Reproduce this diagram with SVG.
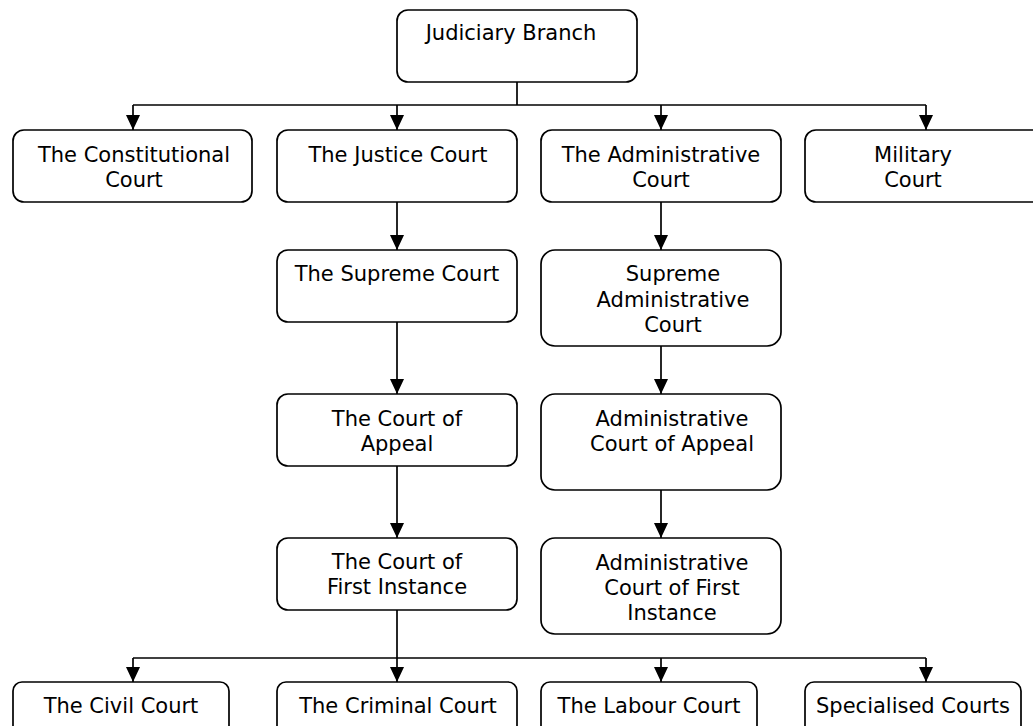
<svg xmlns="http://www.w3.org/2000/svg" width="1033" height="726" viewBox="0 0 1033 726">
<style>
.box{fill:#fff;stroke:#000;stroke-width:1.7}
.ln{fill:none;stroke:#000;stroke-width:1.7}
text{font-family:"DejaVu Sans","Noto Sans",sans-serif;font-size:21px;fill:#000;text-anchor:middle}
</style>
<defs>
<marker id="ah" viewBox="0 0 15 14" refX="15" refY="7" markerWidth="15" markerHeight="14" markerUnits="userSpaceOnUse" orient="auto">
<path d="M0,0 L15,7 L0,14 Z" fill="#000"/>
</marker>
</defs>
<rect width="1033" height="726" fill="#fff"/>
<g id="connectors">
<path class="ln" d="M517,82 V105"/>
<path class="ln" d="M133,105 H926"/>
<path class="ln" d="M133,105 V130" marker-end="url(#ah)"/>
<path class="ln" d="M397,105 V130" marker-end="url(#ah)"/>
<path class="ln" d="M661,105 V130" marker-end="url(#ah)"/>
<path class="ln" d="M926,105 V130" marker-end="url(#ah)"/>
<path class="ln" d="M397,202 V250" marker-end="url(#ah)"/>
<path class="ln" d="M397,322 V394" marker-end="url(#ah)"/>
<path class="ln" d="M397,466 V538" marker-end="url(#ah)"/>
<path class="ln" d="M661,202 V250" marker-end="url(#ah)"/>
<path class="ln" d="M661,346 V394" marker-end="url(#ah)"/>
<path class="ln" d="M661,490 V538" marker-end="url(#ah)"/>
<path class="ln" d="M397,610 V682" marker-end="url(#ah)"/>
<path class="ln" d="M133,658 H926"/>
<path class="ln" d="M133,658 V682" marker-end="url(#ah)"/>
<path class="ln" d="M661,658 V682" marker-end="url(#ah)"/>
<path class="ln" d="M926,658 V682" marker-end="url(#ah)"/>
</g>
<g id="judiciary"><rect class="box" x="397" y="10" width="240" height="72" rx="11"/><text x="511" y="40">Judiciary Branch</text></g>
<g id="constitutional"><rect class="box" x="13" y="130" width="239" height="72" rx="11"/><text x="134" y="162">The Constitutional</text><text x="134" y="187">Court</text></g>
<g id="justice"><rect class="box" x="277" y="130" width="240" height="72" rx="11"/><text x="398" y="162">The Justice Court</text></g>
<g id="administrative"><rect class="box" x="541" y="130" width="240" height="72" rx="11"/><text x="661" y="162">The Administrative</text><text x="661" y="187">Court</text></g>
<g id="military"><rect class="box" x="805" y="130" width="240" height="72" rx="11"/><text x="913" y="162">Military</text><text x="913" y="187">Court</text></g>
<g id="supreme"><rect class="box" x="277" y="250" width="240" height="72" rx="11"/><text x="397" y="281">The Supreme Court</text></g>
<g id="supreme-admin"><rect class="box" x="541" y="250" width="240" height="96" rx="14"/><text x="673" y="281">Supreme</text><text x="673" y="307">Administrative</text><text x="673" y="332">Court</text></g>
<g id="appeal"><rect class="box" x="277" y="394" width="240" height="72" rx="11"/><text x="397" y="426">The Court of</text><text x="397" y="451">Appeal</text></g>
<g id="admin-appeal"><rect class="box" x="541" y="394" width="240" height="96" rx="14"/><text x="672" y="426">Administrative</text><text x="672" y="451">Court of Appeal</text></g>
<g id="first-instance"><rect class="box" x="277" y="538" width="240" height="72" rx="11"/><text x="397" y="569">The Court of</text><text x="397" y="594">First Instance</text></g>
<g id="admin-first"><rect class="box" x="541" y="538" width="240" height="96" rx="14"/><text x="672" y="570">Administrative</text><text x="672" y="595">Court of First</text><text x="672" y="620">Instance</text></g>
<g id="civil"><rect class="box" x="13" y="682" width="216" height="72" rx="9"/><text x="121" y="713">The Civil Court</text></g>
<g id="criminal"><rect class="box" x="277" y="682" width="240" height="72" rx="9"/><text x="398" y="713">The Criminal Court</text></g>
<g id="labour"><rect class="box" x="541" y="682" width="216" height="72" rx="9"/><text x="649" y="713">The Labour Court</text></g>
<g id="specialised"><rect class="box" x="805" y="682" width="216" height="72" rx="9"/><text x="913" y="713">Specialised Courts</text></g>
</svg>
